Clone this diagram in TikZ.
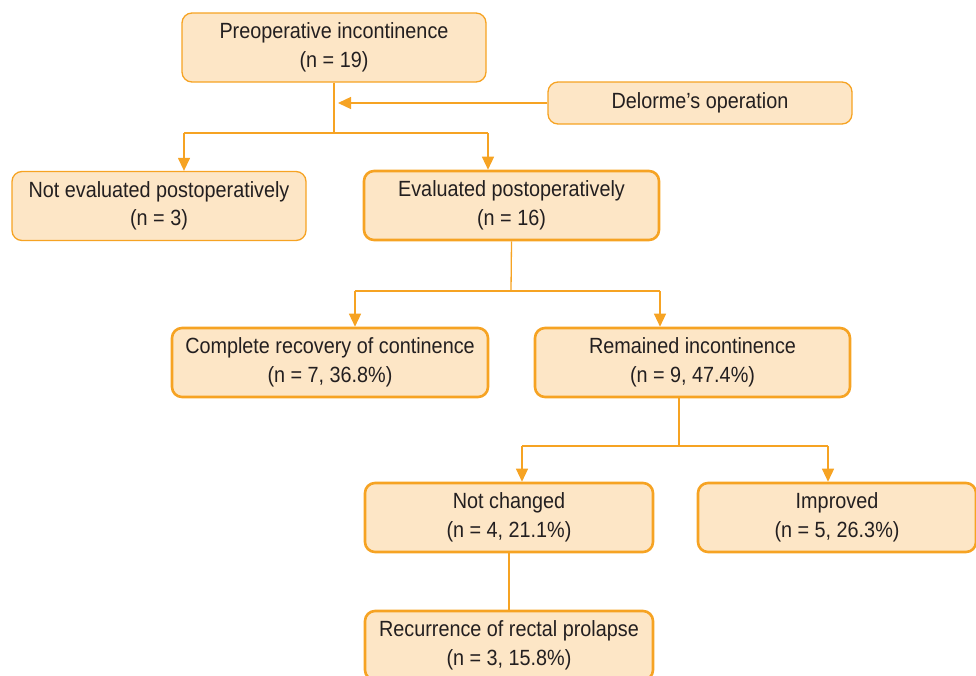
\documentclass[tikz,border=0pt]{standalone}
\usepackage{fontspec}
\setmainfont{Liberation Sans}[FakeStretch=0.9]
\usetikzlibrary{arrows.meta}
\definecolor{boxfill}{HTML}{FDE6C6}
\definecolor{boxline}{HTML}{F6A323}
\definecolor{txtgray}{HTML}{231F20}

\begin{document}
\begin{tikzpicture}[x=1pt, y=-1pt,
  box/.style={draw=boxline, fill=boxfill, rounded corners=10pt, line width=1.3pt,
    align=center, text=txtgray, font=\fontsize{22}{28.5}\selectfont, inner sep=0pt,
    minimum height=69pt},
  boldbox/.style={box, line width=2.6pt},
  link/.style={draw=boxline, line width=1.3pt},
  arr/.style={link, -{Triangle[length=13pt, width=12pt]}}]
\useasboundingbox (0,0) rectangle (976,675);

% boxes
\node[box, minimum width=304pt] (preop) at (334,47.5) {Preoperative incontinence\\(n = 19)};
\node[box, minimum width=304pt, minimum height=42pt] (delorme) at (700,103) {Delorme’s operation};
\node[box, minimum width=294pt] (noteval) at (159,206) {Not evaluated postoperatively\\(n = 3)};
\node[boldbox, minimum width=295pt] (eval) at (511.5,205.5) {Evaluated postoperatively\\(n = 16)};
\node[boldbox, minimum width=316pt] (complete) at (330,362.5) {Complete recovery of continence\\(n = 7, 36.8\%)};
\node[boldbox, minimum width=315pt] (remained) at (692.5,362.5) {Remained incontinence\\(n = 9, 47.4\%)};
\node[boldbox, minimum width=288pt] (notchanged) at (509,517.5) {Not changed\\(n = 4, 21.1\%)};
\node[boldbox, minimum width=278pt] (improved) at (837,517.5) {Improved\\(n = 5, 26.3\%)};
\node[boldbox, minimum width=288pt] (recur) at (509,645.5) {Recurrence of rectal prolapse\\(n = 3, 15.8\%)};

% branch points
\coordinate (j1) at (334,133);
\coordinate (j1l) at (184,133);
\coordinate (j1r) at (488,133);
\coordinate (d1) at (338,103);
\coordinate (j2) at (511,291);
\coordinate (j2l) at (355,291);
\coordinate (j2r) at (660,291);
\coordinate (r1) at (679,397);
\coordinate (j3) at (679,446);
\coordinate (j3l) at (522,446);
\coordinate (j3r) at (828,446);

% connectors
\draw[link] (preop.south) -- (j1);
\draw[link] (j1l) -- (j1r);
\draw[arr] (j1l) -- (j1l |- noteval.north);
\draw[arr] (j1r) -- (j1r |- eval.north);
\draw[arr] (delorme.west) -- (d1);

\draw[link] (eval.south) -- (j2);
\draw[link] (j2l) -- (j2r);
\draw[arr] (j2l) -- (j2l |- complete.north);
\draw[arr] (j2r) -- (j2r |- remained.north);

\draw[link] (r1) -- (j3);
\draw[link] (j3l) -- (j3r);
\draw[arr] (j3l) -- (j3l |- notchanged.north);
\draw[arr] (j3r) -- (j3r |- improved.north);

\draw[link] (notchanged.south) -- (recur.north);
\end{tikzpicture}
\end{document}
